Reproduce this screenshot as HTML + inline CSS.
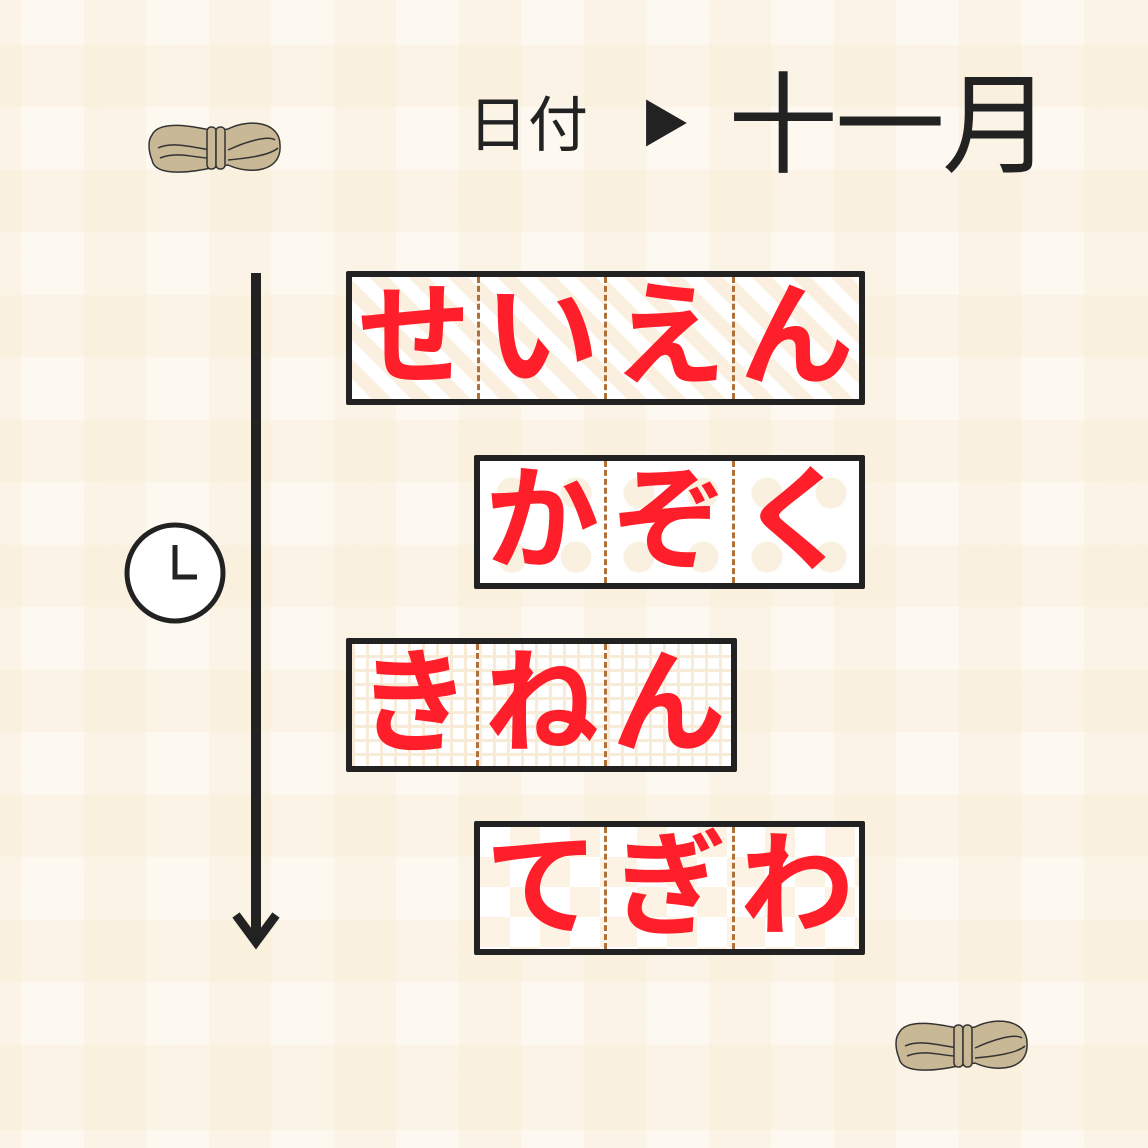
<!DOCTYPE html>
<html><head><meta charset="utf-8"><style>
html,body{margin:0;padding:0}
body{width:1148px;height:1148px;position:relative;overflow:hidden;background:#fdf9f0;
font-family:"Liberation Sans","Noto Sans CJK JP",sans-serif}
.bg{position:absolute;inset:0;
background-image:
repeating-linear-gradient(90deg,rgba(245,228,195,.22) 0 62px,transparent 62px 125px),
repeating-linear-gradient(0deg,rgba(245,228,195,.22) 0 62px,transparent 62px 125px);
background-position:-41px -41px;}
.box{position:absolute;border:6px solid #222;box-sizing:border-box;height:134px;display:flex;background:#fff;border-radius:2px}
.cell{width:129px;height:100%;position:relative;display:flex;align-items:center;justify-content:center;
color:#ff1f2a;font-weight:bold;font-size:114px;line-height:1;}
.cell+.cell{border-left:3px dashed #b0703a}
.s1{background:repeating-linear-gradient(45deg,#fff 0 14px,#fbf0df 14px 28px)}
.s2{background-color:#fff;background-image:radial-gradient(circle,#faf0e0 15px,transparent 16px);background-size:64px 64px}
.s3{background-color:#fff;background-image:linear-gradient(90deg,#f8ebd8 3px,transparent 3px),linear-gradient(0deg,#f8ebd8 3px,transparent 3px);background-size:14px 14px}
.s4{background-color:#fff;background-image:linear-gradient(45deg,#fcf3e5 25%,transparent 25%,transparent 75%,#fcf3e5 75%),linear-gradient(45deg,#fcf3e5 25%,transparent 25%,transparent 75%,#fcf3e5 75%);background-size:60px 60px;background-position:0 0,30px 30px}
</style></head><body>
<div class="bg"></div>
<svg width="1148" height="1148" style="position:absolute;left:0;top:0">
<line x1="256" y1="273" x2="256" y2="942" stroke="#222" stroke-width="10"/>
<polyline points="236,915 256,942 276,915" fill="none" stroke="#222" stroke-width="9"/>
<circle cx="175" cy="573" r="48" fill="#fff" stroke="#222" stroke-width="5"/>
<polyline points="175,545 175,577 197,577" fill="none" stroke="#222" stroke-width="5"/>
<g id="rope" stroke="#333" stroke-width="1.5" fill="#c8b896">
<path d="M152,135 C160,118 200,128 215,131 L228,129 C250,118 280,122 280,145 C282,172 250,175 228,165 L215,167 C195,172 155,178 152,160 C148,150 148,140 152,135Z"/>
<path d="M158,148 C175,140 200,150 215,150 M228,150 C245,142 268,135 275,140 M160,158 C180,150 200,160 215,158 M228,160 C250,158 270,155 278,148" fill="none"/>
<rect x="207" y="127" width="9" height="42" rx="4"/><rect x="216" y="127" width="9" height="42" rx="4"/>
</g>
<use href="#rope" transform="translate(747,898)"/>
</svg>
<div style="position:absolute;left:468px;top:96px;font-size:60px;color:#222;line-height:1">日付</div>
<div style="position:absolute;left:640px;top:100px;font-size:50px;color:#222;line-height:1">▶</div>
<div style="position:absolute;left:728px;top:72px;font-size:110px;color:#222;line-height:1;letter-spacing:-3px">十一月</div>
<div class="box" style="left:346px;top:271px;width:519px">
<div class="cell s1">せ</div><div class="cell s1">い</div><div class="cell s1">え</div><div class="cell s1">ん</div></div>
<div class="box" style="left:474px;top:455px;width:391px">
<div class="cell s2">か</div><div class="cell s2">ぞ</div><div class="cell s2">く</div></div>
<div class="box" style="left:346px;top:638px;width:391px">
<div class="cell s3">き</div><div class="cell s3">ね</div><div class="cell s3">ん</div></div>
<div class="box" style="left:474px;top:821px;width:391px">
<div class="cell s4">て</div><div class="cell s4">ぎ</div><div class="cell s4">わ</div></div>
</body></html>
